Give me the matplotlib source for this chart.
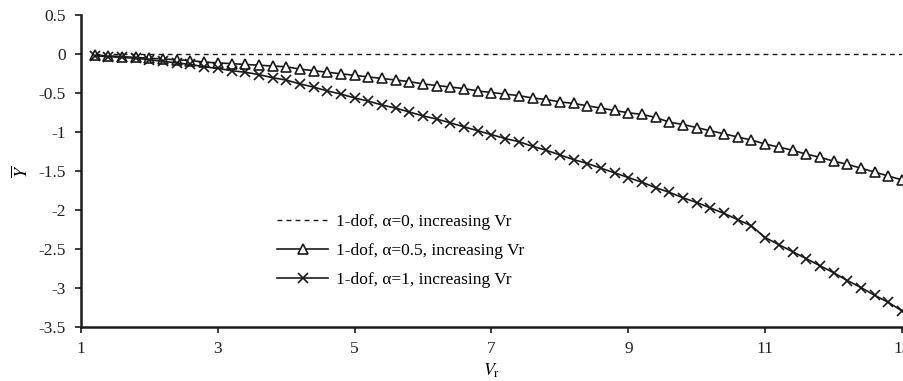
import matplotlib
matplotlib.use("Agg")
import matplotlib.pyplot as plt
import numpy as np
from matplotlib.ticker import FuncFormatter

plt.rcParams["font.family"] = ["Liberation Serif", "DejaVu Serif"]
plt.rcParams["mathtext.fontset"] = "stix"

# reduced velocity samples
vr = [
    1.2, 1.4, 1.6, 1.8, 2.0, 2.2, 2.4, 2.6, 2.8, 3.0,
    3.2, 3.4, 3.6, 3.8, 4.0, 4.2, 4.4, 4.6, 4.8, 5.0,
    5.2, 5.4, 5.6, 5.8, 6.0, 6.2, 6.4, 6.6, 6.8, 7.0,
    7.2, 7.4, 7.6, 7.8, 8.0, 8.2, 8.4, 8.6, 8.8, 9.0,
    9.2, 9.4, 9.6, 9.8, 10.0, 10.2, 10.4, 10.6, 10.8, 11.0,
    11.2, 11.4, 11.6, 11.8, 12.0, 12.2, 12.4, 12.6, 12.8, 13.0,
]

y_alpha0 = [0.0] * len(vr)

y_alpha05 = [
    -0.01, -0.02, -0.03, -0.04, -0.05, -0.06, -0.07, -0.08, -0.10, -0.11,
    -0.12, -0.13, -0.14, -0.15, -0.16, -0.19, -0.21, -0.23, -0.25, -0.27,
    -0.29, -0.31, -0.33, -0.35, -0.38, -0.40, -0.42, -0.44, -0.47, -0.49,
    -0.51, -0.53, -0.56, -0.58, -0.61, -0.63, -0.66, -0.69, -0.72, -0.75,
    -0.77, -0.81, -0.87, -0.90, -0.94, -0.98, -1.02, -1.06, -1.10, -1.15,
    -1.19, -1.23, -1.28, -1.32, -1.37, -1.41, -1.46, -1.51, -1.56, -1.61,
]

y_alpha1 = [
    -0.02, -0.03, -0.04, -0.05, -0.07, -0.09, -0.11, -0.13, -0.16, -0.18,
    -0.21, -0.23, -0.26, -0.30, -0.33, -0.38, -0.42, -0.47, -0.51, -0.56,
    -0.60, -0.65, -0.69, -0.74, -0.79, -0.83, -0.88, -0.93, -0.98, -1.03,
    -1.08, -1.12, -1.18, -1.23, -1.29, -1.35, -1.40, -1.46, -1.52, -1.58,
    -1.64, -1.71, -1.77, -1.84, -1.90, -1.97, -2.04, -2.12, -2.20, -2.35,
    -2.44, -2.53, -2.62, -2.71, -2.80, -2.90, -2.99, -3.09, -3.18, -3.29,
]

x_ticks = [1, 3, 5, 7, 9, 11, 13]
y_ticks = [-3.5, -3, -2.5, -2, -1.5, -1, -0.5, 0, 0.5]

ink = "#1a1a1a"

fig = plt.figure(figsize=(9.04, 3.81), dpi=100)
ax = fig.add_axes([81 / 904, 1 - 327.3 / 381, 821 / 904, 312 / 381])

ax.plot(vr, y_alpha0, color=ink, linewidth=1.0, linestyle=(0, (3.5, 3)),
        label="1-dof, α=0, increasing Vr")
ax.plot(vr, y_alpha05, color=ink, linewidth=1.2, marker="^", markersize=7.5,
        markerfacecolor="white", markeredgecolor=ink, markeredgewidth=1.2,
        label="1-dof, α=0.5, increasing Vr", clip_on=False)
ax.plot(vr, y_alpha1, color=ink, linewidth=1.2, marker="x", markersize=7,
        markeredgewidth=1.2, label="1-dof, α=1, increasing Vr", clip_on=False)

ax.set_xlim(1, 13)
ax.set_ylim(-3.5, 0.5)
ax.set_xticks(x_ticks)
ax.set_yticks(y_ticks)
ax.yaxis.set_major_formatter(FuncFormatter(lambda v, _: f"{v:g}"))
ax.xaxis.set_major_formatter(FuncFormatter(lambda v, _: f"{v:g}"))

for side in ("top", "right"):
    ax.spines[side].set_visible(False)
for side in ("left", "bottom"):
    ax.spines[side].set_linewidth(1.8)
    ax.spines[side].set_color(ink)

ax.tick_params(direction="out", length=4, width=1.2, colors=ink, labelsize=12.5,
               labelcolor="#222222")
ax.tick_params(axis="x", pad=6)
ax.tick_params(axis="y", pad=7)

ax.set_xlabel(r"$V_{\mathrm{r}}$", fontsize=13, labelpad=3)
ax.set_ylabel(r"$\overline{Y}$", fontsize=13, labelpad=5)

ax.legend(loc="upper left", bbox_to_anchor=(277 / 904, 1 - 214 / 381),
          bbox_transform=fig.transFigure, frameon=False, fontsize=12.5,
          borderpad=0, borderaxespad=0, handlelength=2.95, handletextpad=0.45,
          labelspacing=0.73)

fig.savefig("out.png", dpi=100)
